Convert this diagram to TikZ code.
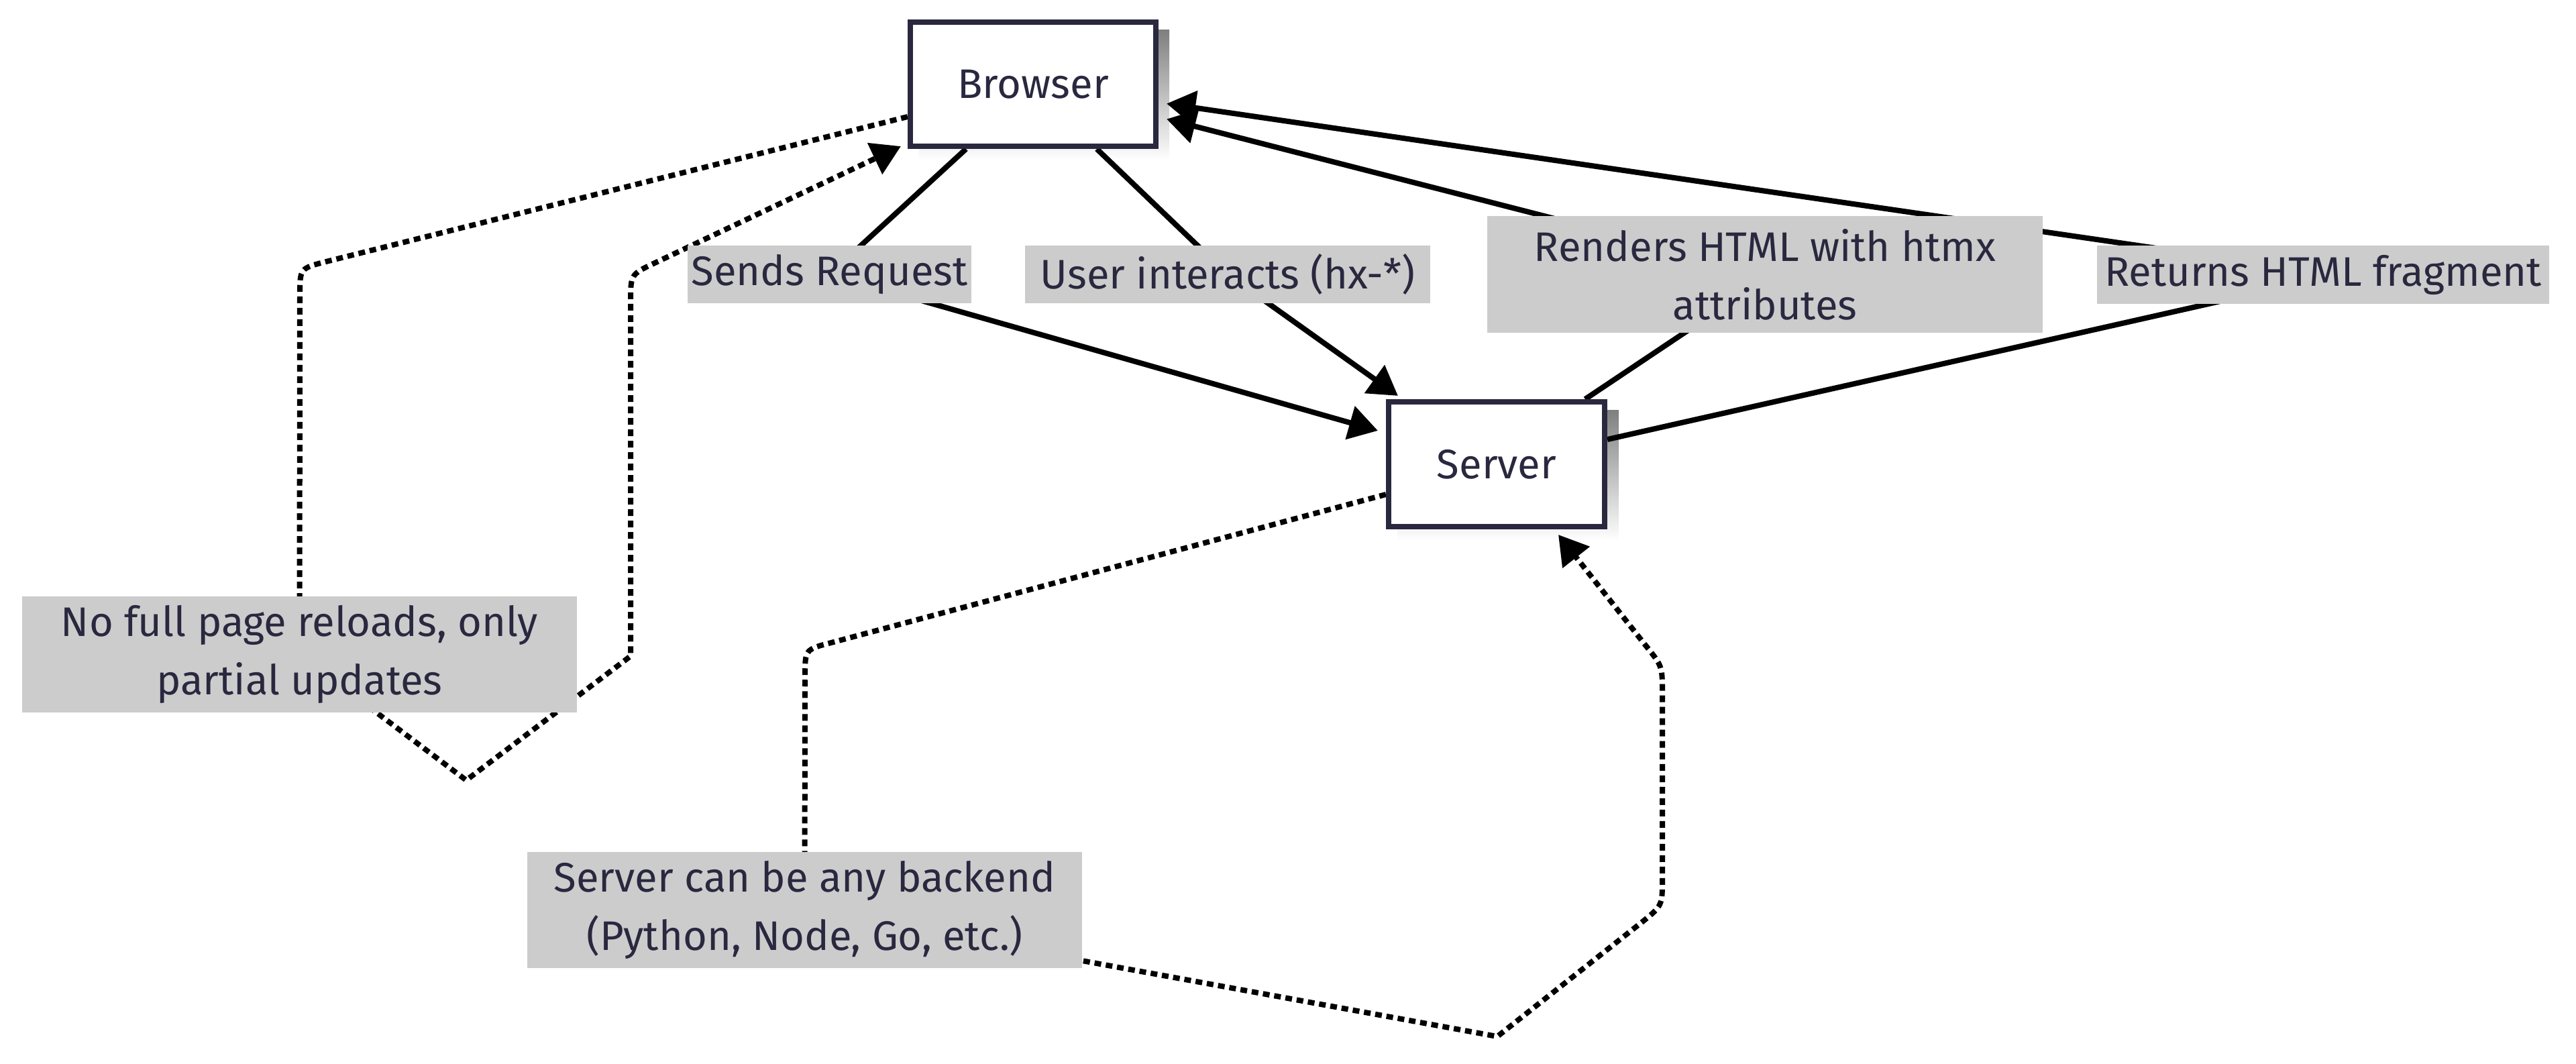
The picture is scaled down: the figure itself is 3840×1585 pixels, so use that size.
\documentclass[tikz,border=0pt]{standalone}
\usepackage{fontspec}
\setmainfont{Fira Sans}
\usetikzlibrary{arrows.meta,backgrounds,calc}
\definecolor{ink}{HTML}{2A283F}
\definecolor{lblfill}{HTML}{CCCCCC}
\definecolor{shade}{HTML}{F0F0F0}
\begin{document}
\begin{tikzpicture}[x=0.01cm,y=-0.01cm,
  txt/.style={font=\fontsize{17.5pt}{24.7pt}\selectfont, text=ink},
  box/.style={txt, draw=ink, line width=0.08cm, fill=white, inner sep=0pt},
  lab/.style={txt, fill=lblfill, inner sep=0pt, align=center, minimum height=0.86cm},
  edge/.style={line width=0.08cm, draw=black, -{Triangle[length=0.43cm,width=0.5cm]}},
  dotedge/.style={edge, dash pattern=on 0.1cm off 0.07cm}]
\useasboundingbox (0,0) rectangle (3840,1585);

\node[box, minimum width=3.66cm, minimum height=1.85cm] (browser) at (1540,125.5) {Browser};
\node[box, minimum width=3.22cm, minimum height=1.86cm] (server) at (2231,692) {Server};

\node[lab, minimum width=4.23cm] (lsend) at (1236.5,409) {Sends Request};
\node[lab, minimum width=6.04cm] (luser) at (1830,409) {User interacts (hx-*)};
\node[lab, minimum width=8.28cm, minimum height=1.74cm] (lrender) at (2631,409) {Renders HTML with htmx\\attributes};
\node[lab, minimum width=6.74cm] (lreturn) at (3463,409.5) {Returns HTML fragment};
\node[lab, minimum width=8.27cm, minimum height=1.73cm] (lnofull) at (446.5,975.5) {No full page reloads, only\\partial updates};
\node[lab, minimum width=8.27cm, minimum height=1.73cm] (lany) at (1199.5,1356.5) {Server can be any backend\\(Python, Node, Go, etc.)};

\begin{pgfonlayer}{background}
  \fill[shade] ($(browser.north west)+(17,16)$) rectangle ($(browser.south east)+(16,17)$);
  \fill[shade] ($(server.north west)+(17,17)$) rectangle ($(server.south east)+(17,17)$);

  % solid edges
  \draw[edge] ($(browser.south)+(-100,0)$) -- (lsend.center) -- ($(server.north west)+(-12,47)$);
  \draw[edge] ($(browser.south)+(95,0)$) -- (luser.center) -- ($(server.north west)+(18,-5)$);
  \draw[edge] ($(server.north)+(132,0)$) -- ($(lrender.center)+(10,0)$) -- ($(browser.east)+(12,52)$);
  \draw[edge] ($(server.east)+(0,-37)$) -- ($(lreturn.center)+(22,0)$) -- ($(browser.east)+(12,29)$);

  % self loop on Browser
  \coordinate (bl1) at (447,400);
  \coordinate (bl2) at (695,1163);
  \coordinate (bl3) at (940,978);
  \coordinate (bl4) at (940,409);
  \draw[dotedge] ($(browser.west)+(0,48.5)$) -- (486,390) .. controls (bl1) .. (447,440)
     -- (lnofull.center) -- (bl2) -- (bl3) -- (940,450) .. controls (bl4) .. (976,392)
     -- ($(browser.south west)+(-10,-4)$);

  % self loop on Server
  \coordinate (sl1) at (1200,968);
  \coordinate (sl2) at (2232,1545);
  \coordinate (sl3) at (2478,1350);
  \coordinate (sl4) at (2478,993);
  \draw[dotedge] ($(server.west)+(0,45)$) -- (1239,958) .. controls (sl1) .. (1200,1008)
     -- (lany.center) -- (sl2) -- (2447,1375) .. controls (sl3) .. (2478,1310)
     -- (2478,1033) .. controls (sl4) .. (2453,962)
     -- ($(server.south)+(92,8)$);
\end{pgfonlayer}
\end{tikzpicture}
\end{document}
